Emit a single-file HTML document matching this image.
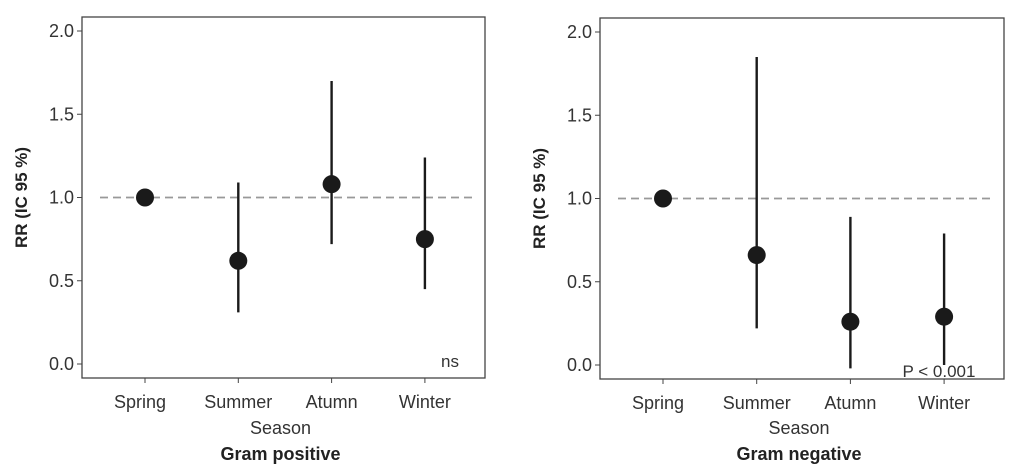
<!DOCTYPE html>
<html><head><meta charset="utf-8"><style>
html,body{margin:0;padding:0;background:#fff;}
svg{display:block;font-family:"Liberation Sans",sans-serif;}
</style></head><body>
<svg id="chart" width="1024" height="474" viewBox="0 0 1024 474"></svg>
<script>
const categories = ["Spring","Summer","Atumn","Winter"];
const posEst = [1.0, 0.62, 1.08, 0.75];
const posLow = [1.0, 0.31, 0.72, 0.45];
const posHigh = [1.0, 1.09, 1.70, 1.24];
const negEst = [1.0, 0.66, 0.26, 0.29];
const negLow = [1.0, 0.22, -0.02, 0.0];
const negHigh = [1.0, 1.85, 0.89, 0.79];
const yTicks = [0.0, 0.5, 1.0, 1.5, 2.0];
const yTickLabels = ["0.0","0.5","1.0","1.5","2.0"];
const refValue = 1.0;

const NS = "http://www.w3.org/2000/svg";
const svg = document.getElementById("chart");
function mk(tag, attrs, parent, text){
  const e = document.createElementNS(NS, tag);
  for (const k in attrs) e.setAttribute(k, attrs[k]);
  if (text !== undefined) e.textContent = text;
  (parent||svg).appendChild(e);
  return e;
}
function panel(cfg){
  const g = mk("g", {});
  
  
  const yS = v => cfg.y0 + (cfg.y2 - cfg.y0) * v / 2;
  const xS = i => cfg.xs + i * cfg.dx;
  const box = mk("rect", {x:cfg.bx, y:cfg.by, width:cfg.bw, height:cfg.bh, fill:"none", stroke:"#444", "stroke-width":1.3}, g);
  
  
  yTicks.forEach((t, i) => {
    const y = yS(t);
    const tk = mk("line", {x1:cfg.bx-5, x2:cfg.bx, y1:y, y2:y, stroke:"#444", "stroke-width":1}, g);
    
    
    const tl = mk("text", {x:cfg.bx-8, y:y+6, "text-anchor":"end", "font-size":18, fill:"#333"}, g, yTickLabels[i]);
    
    
  });
  const ref = mk("line", {x1:cfg.bx+18, x2:cfg.bx+cfg.bw-10, y1:yS(refValue), y2:yS(refValue), stroke:"#999", "stroke-width":1.8, "stroke-dasharray":"8 5"}, g);
  
  
  categories.forEach((c, i) => {
    const x = xS(i);
    const tk = mk("line", {x1:x, x2:x, y1:cfg.by+cfg.bh, y2:cfg.by+cfg.bh+5, stroke:"#444", "stroke-width":1}, g);
    
    
    const tl = mk("text", {x:x-(i===0?5:0), y:cfg.by+cfg.bh+30, "text-anchor":"middle", "font-size":18, fill:"#333"}, g, c);
    
    
    if (cfg.high[i] !== cfg.low[i]) {
      const ci = mk("line", {x1:x, x2:x, y1:yS(cfg.low[i]), y2:yS(cfg.high[i]), stroke:"#1a1a1a", "stroke-width":2.4}, g);
      
      
    }
    const pt = mk("circle", {cx:x, cy:yS(cfg.est[i]), r:9, fill:"#1a1a1a"}, g);
    
    
  });
  const yt = mk("text", {x:0, y:0, transform:`translate(${cfg.bx-55},${cfg.by+cfg.bh/2}) rotate(-90)`, "text-anchor":"middle", "font-size":17, "font-weight":"bold", fill:"#222"}, g, "RR (IC 95 %)");
  
  
  const xt = mk("text", {x:cfg.bx+cfg.bw/2-3, y:434, "text-anchor":"middle", "font-size":18, fill:"#333"}, g, "Season");
  
  
  const tt = mk("text", {x:cfg.bx+cfg.bw/2-3, y:460, "text-anchor":"middle", "font-size":18, "font-weight":"bold", fill:"#222"}, g, cfg.title);
  
  
  const an = mk("text", {x:cfg.annX, y:cfg.annY, "text-anchor":"middle", "font-size":17, fill:"#333"}, g, cfg.ann);
  
  
}
panel({name:"gram-positive-panel", bx:82, by:17, bw:403, bh:361, y0:364, y2:31, xs:145, dx:93.3,
  est:posEst, low:posLow, high:posHigh, title:"Gram positive", ann:"ns", annX:450, annY:367});
panel({name:"gram-negative-panel", bx:600, by:18, bw:404, bh:361, y0:365, y2:32, xs:663, dx:93.7,
  est:negEst, low:negLow, high:negHigh, title:"Gram negative", ann:"P < 0.001", annX:939, annY:377});
</script>
</body></html>
